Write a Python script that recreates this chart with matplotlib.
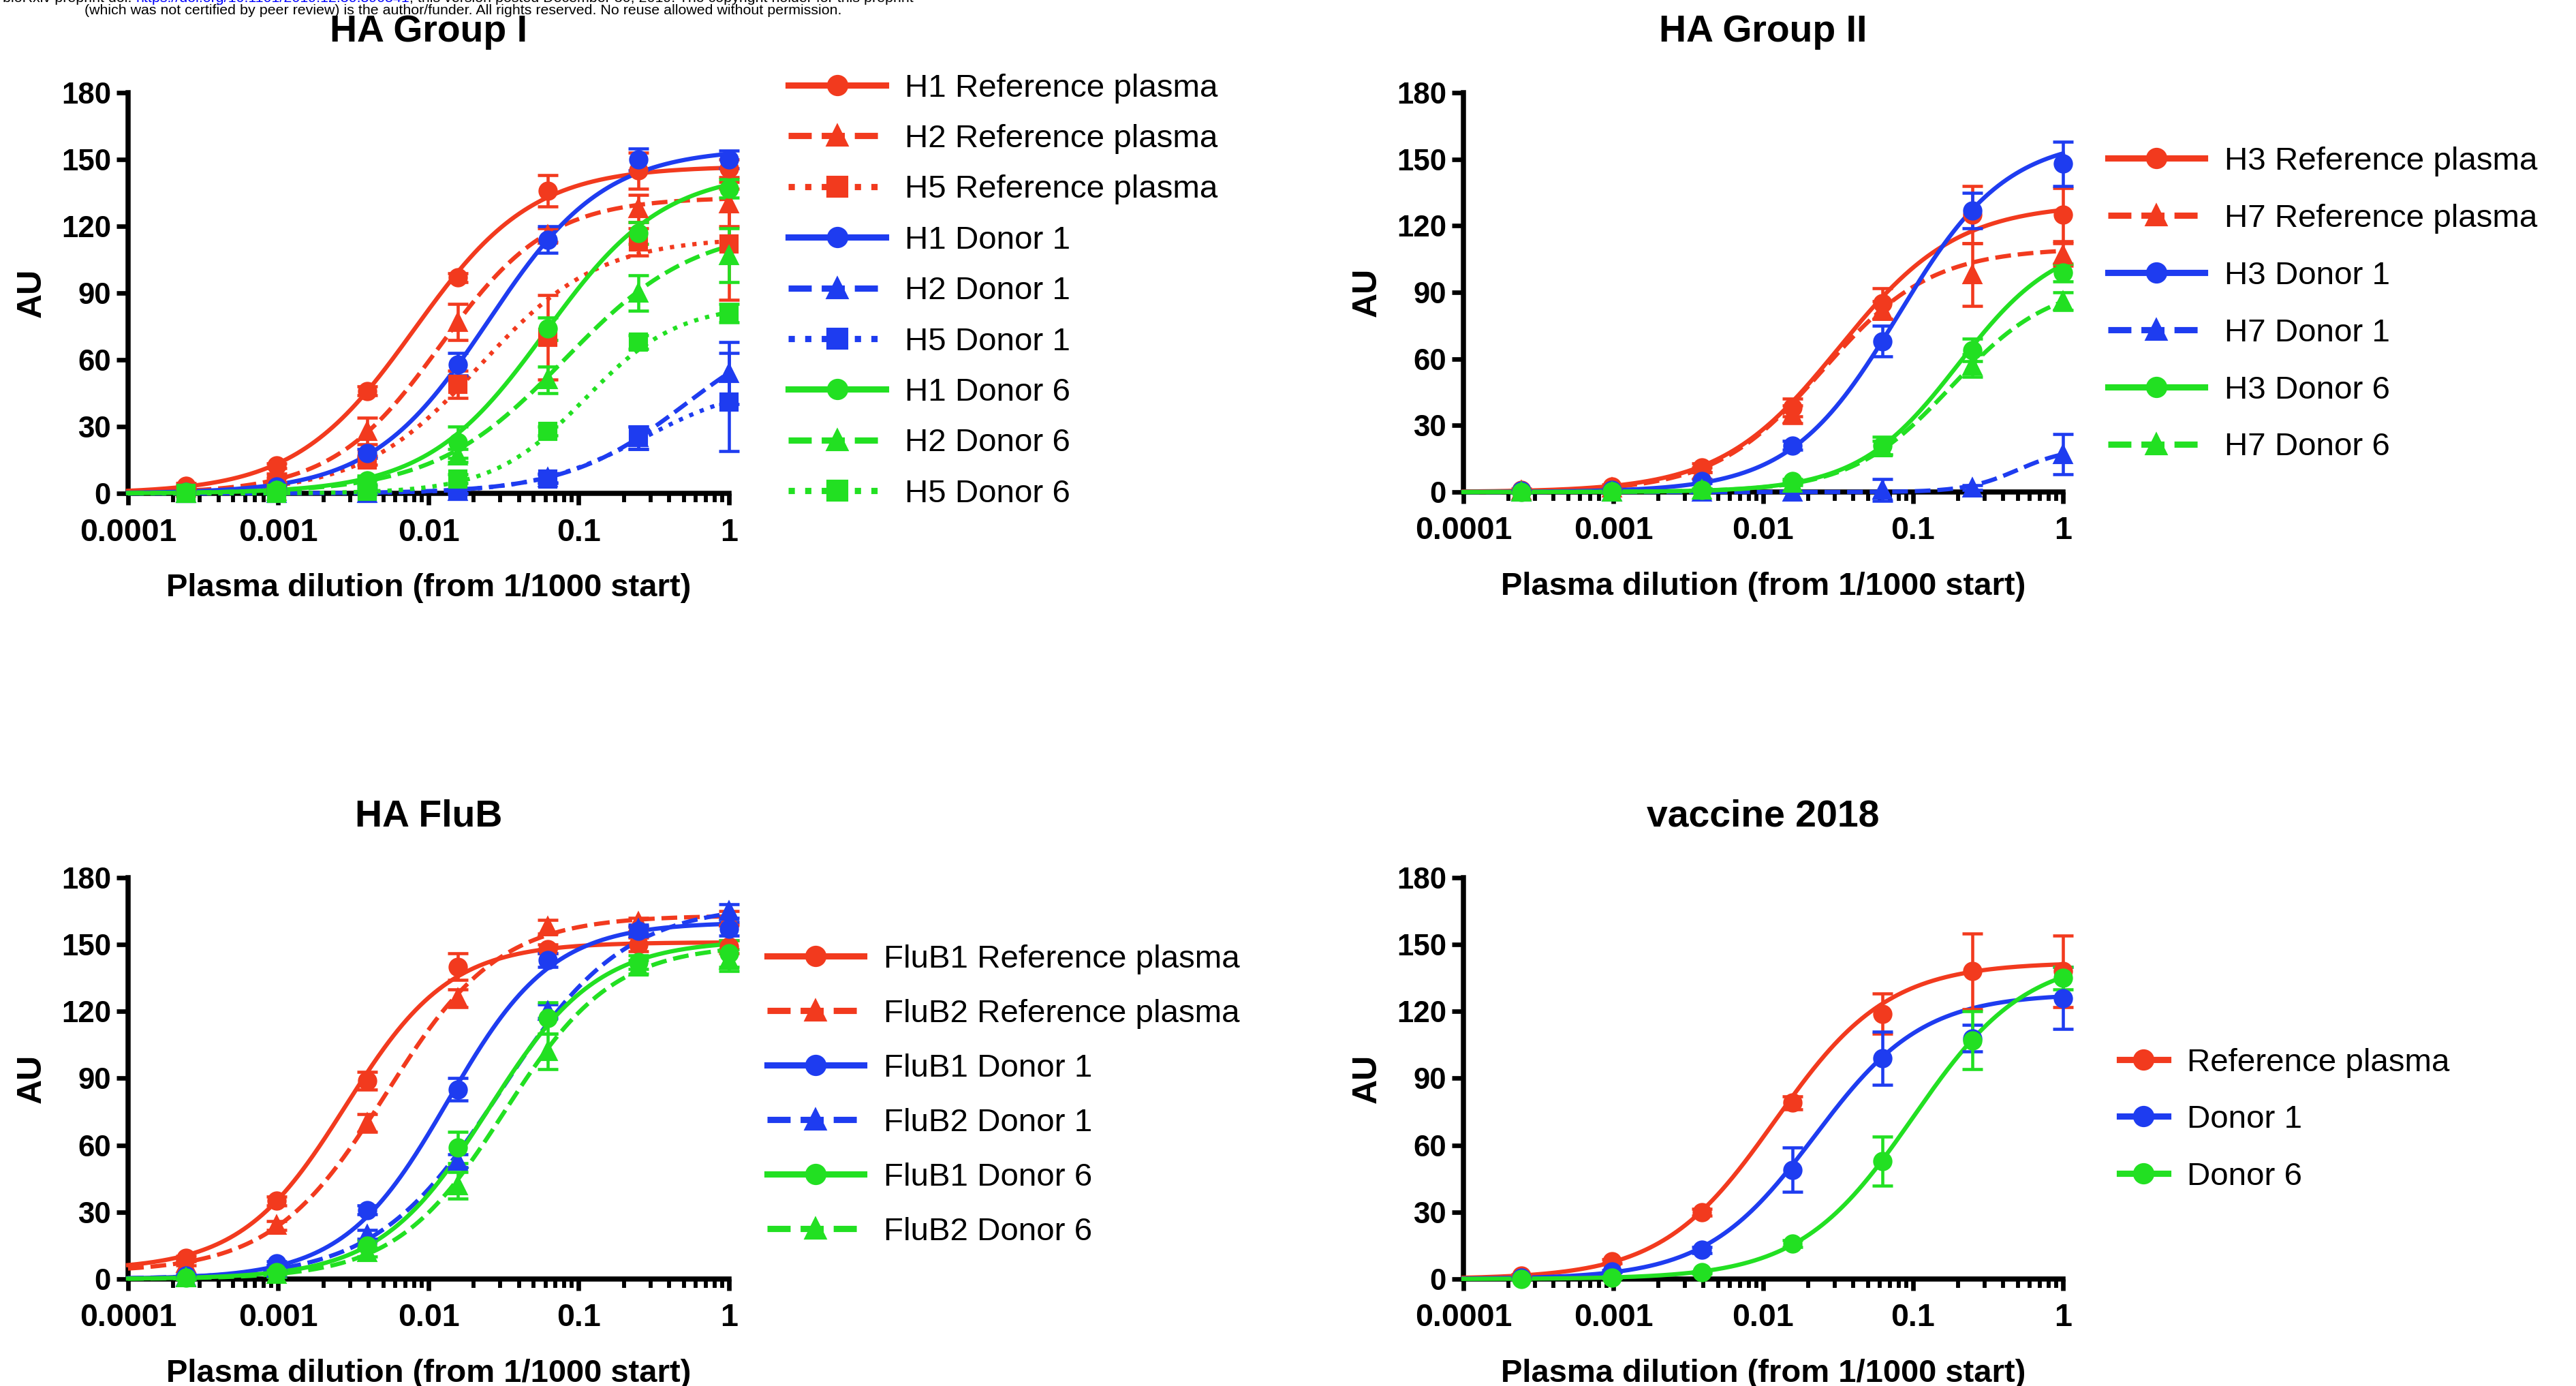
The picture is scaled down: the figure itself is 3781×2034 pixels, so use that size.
import numpy as np
import matplotlib
matplotlib.use('Agg')
import matplotlib.pyplot as plt
from matplotlib import ticker
from matplotlib.lines import Line2D

plt.rcParams['font.family'] = ['Liberation Sans', 'DejaVu Sans']

RED = '#F23A1E'
BLUE = '#1E3CF0'
GREEN = '#22E022'

# 4-fold dilution series (x values)
DIL = [1, 0.25, 0.0625, 0.015625, 0.00390625, 0.0009765625, 0.000244140625]
XTICKS = [0.0001, 0.001, 0.01, 0.1, 1]
XTICKLABELS = ['0.0001', '0.001', '0.01', '0.1', '1']
YTICKS = [0, 30, 60, 90, 120, 150, 180]

# --- HA Group I ---
g1_labels = ['H1 Reference plasma', 'H2 Reference plasma', 'H5 Reference plasma',
             'H1 Donor 1', 'H2 Donor 1', 'H5 Donor 1',
             'H1 Donor 6', 'H2 Donor 6', 'H5 Donor 6']
g1_values = [[146, 145, 136, 97, 46, 12.5, 3.5],
             [130, 128, 116, 77, 28, 8, 2.5],
             [112, 113, 70, 49, 15, 4, 1],
             [150, 150, 114, 58, 18, 3, 0.5],
             [54, 25, 7, 1, 0, 0, 0],
             [41, 25, 6.5, 1, 0, 0, 0],
             [137, 117, 74, 23, 6, 1.5, 0.5],
             [107, 90, 51, 17, 5, 1, 0],
             [81, 68, 28, 6.5, 1, 0, 0]]
g1_sd = [[4, 8, 7, 2, 2, 1, 1],
         [10, 6, 3, 8, 6, 1, 1],
         [25, 6, 19, 6, 2, 1, 0.5],
         [4, 5, 6, 5, 2, 1, 0.5],
         [14, 5, 2, 1, 0, 0, 0],
         [22, 5, 2, 1, 0, 0, 0],
         [4, 5, 5, 7, 2, 1, 0.5],
         [12, 8, 6, 3, 2, 1, 0],
         [4, 3, 2, 2, 1, 0, 0]]
# fitted 4PL curve: bottom, top, EC50, hill
g1_fit = [[0, 147, 0.008, 1.1], [0, 133, 0.012, 1.2], [0, 115, 0.022, 1.1],
          [0, 155, 0.025, 1.12], [0, 80, 0.51, 1.1], [0, 50, 0.27, 1.2],
          [0, 145, 0.06, 1.1], [0, 120, 0.08, 1.0], [0, 85, 0.11, 1.4]]

# --- HA Group II ---
g2_labels = ['H3 Reference plasma', 'H7 Reference plasma', 'H3 Donor 1',
             'H7 Donor 1', 'H3 Donor 6', 'H7 Donor 6']
g2_values = [[125, 125, 85, 38, 11, 2.5, 1],
             [107, 98, 82, 35, 10, 2, 0.5],
             [148, 127, 68, 21, 5, 1, 0.5],
             [17, 2, 1, 0, 0, 0, 0],
             [99, 64, 21, 5, 1, 0.3, 0],
             [86, 57, 20, 4, 1, 0, 0]]
g2_sd = [[12, 13, 7, 4, 2, 1, 0.5],
         [5, 14, 4, 4, 1, 0.5, 0],
         [10, 8, 7, 2, 1, 0.5, 0],
         [9, 1, 5, 0, 0, 0, 0],
         [4, 5, 4, 1, 0.5, 0, 0],
         [4, 5, 3, 1, 0.5, 0, 0]]
g2_fit = [[0, 130, 0.032, 1.1], [0, 110, 0.025, 1.2], [0, 160, 0.08, 1.2],
          [0, 20, 0.5, 2.5], [0, 115, 0.2, 1.3], [0, 95, 0.18, 1.3]]

# --- HA FluB ---
fb_labels = ['FluB1 Reference plasma', 'FluB2 Reference plasma', 'FluB1 Donor 1',
             'FluB2 Donor 1', 'FluB1 Donor 6', 'FluB2 Donor 6']
fb_values = [[149, 150, 148, 140, 89, 35, 9.5],
             [162, 160, 158, 126, 70, 24, 7],
             [157, 156, 143, 85, 31, 7, 1.5],
             [165, 157, 120, 53, 20, 5, 1],
             [146, 142, 117, 59, 15, 3, 0.5],
             [143, 140, 102, 42, 12, 2, 0.5]]
fb_sd = [[3, 3, 2, 6, 4, 2, 1],
         [3, 2, 3, 4, 4, 2, 1],
         [3, 2, 3, 5, 2, 1, 0.5],
         [3, 2, 3, 3, 2, 1, 0.5],
         [6, 3, 7, 7, 2, 1, 0.5],
         [5, 3, 8, 6, 2, 1, 0.5]]
fb_fit = [[4, 151, 0.0028, 1.25], [3, 163, 0.0052, 1.15], [0, 160, 0.0135, 1.25],
          [0, 168, 0.03, 1.05], [0, 152, 0.025, 1.2], [0, 150, 0.032, 1.2]]

# --- vaccine 2018 ---
vac_labels = ['Reference plasma', 'Donor 1', 'Donor 6']
vac_values = [[138, 138, 119, 79, 30, 8, 1.5],
              [126, 108, 99, 49, 13, 3.5, 0.5],
              [135, 107, 53, 16, 3, 0.5, 0]]
vac_sd = [[16, 17, 9, 3, 1.5, 1, 0.5],
          [14, 6, 12, 10, 1.5, 0.5, 0.2],
          [5, 13, 11, 1.5, 0.5, 0.2, 0]]
vac_fit = [[0, 142, 0.012, 1.15], [0, 128, 0.022, 1.2], [0, 145, 0.1, 1.15]]

# styles (colour, linestyle, marker)
STY9 = [(RED, '-', 'o'), (RED, '--', '^'), (RED, ':', 's'),
        (BLUE, '-', 'o'), (BLUE, '--', '^'), (BLUE, ':', 's'),
        (GREEN, '-', 'o'), (GREEN, '--', '^'), (GREEN, ':', 's')]
STY6 = [(RED, '-', 'o'), (RED, '--', '^'), (BLUE, '-', 'o'),
        (BLUE, '--', '^'), (GREEN, '-', 'o'), (GREEN, '--', '^')]
STY3 = [(RED, '-', 'o'), (BLUE, '-', 'o'), (GREEN, '-', 'o')]


def logistic(x, bottom, top, ec50, hill):
    r = (x / ec50) ** hill
    return bottom + (top - bottom) * r / (1 + r)


def draw_panel(ax, title, labels, values, sds, fits, styles, leg_y, leg_x, spacing, hlen):
    xs = np.logspace(-4, 0, 400)
    handles = []
    for lab, v, sd, fit, (c, ls, mk) in zip(labels, values, sds, fits, styles):
        ax.plot(xs, logistic(xs, *fit), color=c, ls=ls, lw=1.5, clip_on=False, zorder=3)
        ax.errorbar(DIL, v, yerr=sd, fmt=mk, color=c, ms=5.8, capsize=3.5,
                    elinewidth=1.1, capthick=1.1, clip_on=False, zorder=4)
        handles.append(Line2D([], [], color=c, ls=ls, lw=2.2, marker=mk, ms=6.5))
    ax.set_xscale('log')
    ax.set_xlim(1e-4, 1)
    ax.set_ylim(0, 180)
    ax.set_yticks(YTICKS)
    ax.xaxis.set_major_locator(ticker.FixedLocator(XTICKS))
    ax.xaxis.set_major_formatter(ticker.FixedFormatter(XTICKLABELS))
    ax.xaxis.set_minor_locator(ticker.LogLocator(base=10, subs=np.arange(2, 10), numticks=20))
    ax.xaxis.set_minor_formatter(ticker.NullFormatter())
    for s in ['top', 'right']:
        ax.spines[s].set_visible(False)
    for s in ['left', 'bottom']:
        ax.spines[s].set_linewidth(1.8)
    ax.tick_params(which='major', direction='out', width=1.6, length=4)
    ax.tick_params(axis='x', which='major', labelsize=11.2, pad=4.5)
    ax.tick_params(axis='y', which='major', labelsize=10.5, pad=2)
    ax.tick_params(which='minor', direction='out', width=1.4, length=3)
    for t in ax.get_xticklabels() + ax.get_yticklabels():
        t.set_fontweight('bold')
    ax.set_xlabel('Plasma dilution (from 1/1000 start)', fontsize=11.3, fontweight='bold', labelpad=9)
    ax.set_ylabel('AU', fontsize=12, fontweight='bold', labelpad=4.8)
    ax.set_title(title, fontsize=13.3, fontweight='bold', pad=18)
    ax.legend(handles, labels, loc='center left', bbox_to_anchor=(leg_x, leg_y),
              frameon=False, fontsize=11.4, numpoints=1, handlelength=hlen,
              handletextpad=0.6, labelspacing=spacing, borderpad=0, borderaxespad=0)


fig = plt.figure(figsize=(3781 / 300, 2034 / 300), dpi=300)
ax1 = fig.add_axes([0.0497, 0.6440, 0.2333, 0.2891])
ax2 = fig.add_axes([0.5681, 0.6450, 0.2327, 0.2881])
ax3 = fig.add_axes([0.0497, 0.0772, 0.2333, 0.2896])
ax4 = fig.add_axes([0.5681, 0.0772, 0.2327, 0.2896])

draw_panel(ax1, 'HA Group I', g1_labels, g1_values, g1_sd, g1_fit, STY9, 0.505, 1.099, 0.64, 3.0)
draw_panel(ax2, 'HA Group II', g2_labels, g2_values, g2_sd, g2_fit, STY6, 0.47, 1.075, 0.84, 3.0)
draw_panel(ax3, 'HA FluB', fb_labels, fb_values, fb_sd, fb_fit, STY6, 0.457, 1.063, 0.76, 3.0)
draw_panel(ax4, 'vaccine 2018', vac_labels, vac_values, vac_sd, vac_fit, STY3, 0.397, 1.094, 0.83, 1.5)

# preprint header (top line is cut off at the page edge, as in the source)
renderer = fig.canvas.get_renderer()
x = 4 / 3781
y1 = 1 - 3 / 2034
for part, col in [('bioRxiv preprint doi: ', 'black'),
                  ('https://doi.org/10.1101/2019.12.30.890541', 'blue'),
                  ('; this version posted December 30, 2019. The copyright holder for this preprint', 'black')]:
    t = fig.text(x, y1, part, color=col, fontsize=5.15, ha='left', va='baseline')
    bb = t.get_window_extent(renderer)
    x = bb.x1 / fig.bbox.width
fig.text(680 / 3781, 1 - 21 / 2034,
         '(which was not certified by peer review) is the author/funder. All rights reserved. '
         'No reuse allowed without permission.',
         fontsize=5.15, ha='center', va='baseline')

fig.savefig('out.png', dpi=300)
